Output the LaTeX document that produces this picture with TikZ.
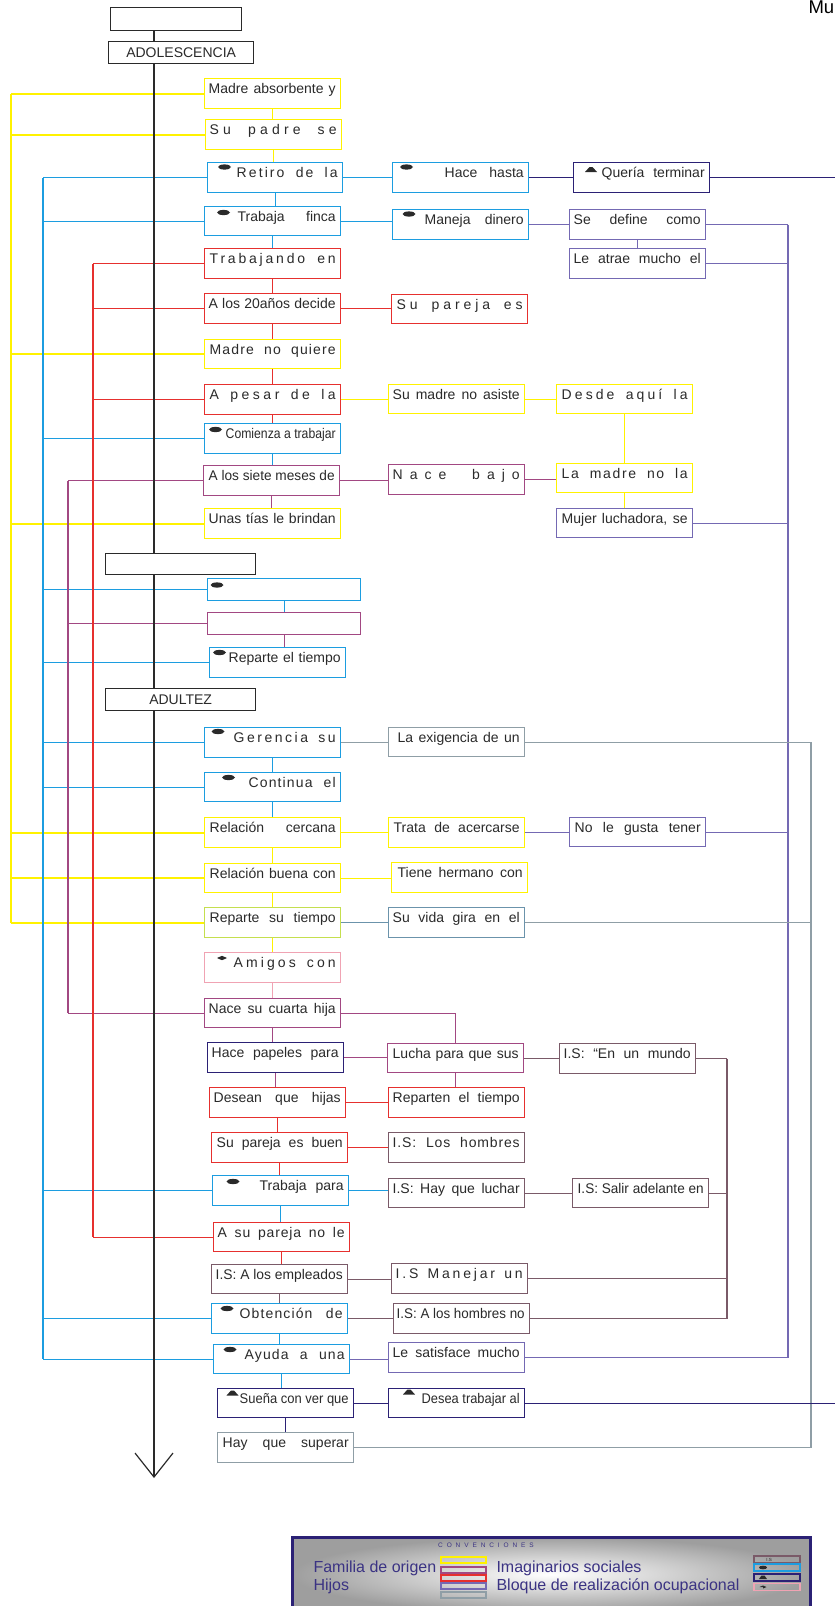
\documentclass[tikz,border=0pt]{standalone}
\usepackage{fontspec}
\setmainfont{Liberation Sans}
\usepackage{graphicx}
\usetikzlibrary{arrows.meta, positioning, calc}

\definecolor{cYel}{HTML}{FFF200}
\definecolor{cBlu}{HTML}{1C9DE0}
\definecolor{cRed}{HTML}{E6302E}
\definecolor{cMag}{HTML}{A24882}
\definecolor{cPur}{HTML}{7469B3}
\definecolor{cGry}{HTML}{8F9EA6}
\definecolor{cBrn}{HTML}{7A5A68}
\definecolor{cNav}{HTML}{2B2175}
\definecolor{cPnk}{HTML}{F0A3B3}
\definecolor{cLim}{HTML}{C5DF4E}
\definecolor{cStl}{HTML}{6B93AB}
\definecolor{cInk}{HTML}{2A2A2A}
\definecolor{cLeg}{HTML}{3B3383}

\pgfdeclarelayer{bg}
\pgfdeclarelayer{mid}
\pgfsetlayers{bg,mid,main}

\newsavebox\fitbox
\newlength\fitw
\newlength\natw
\newcommand\fit[2]{%
  \setlength\fitw{#1}\sbox\fitbox{#2}\setlength\natw{\wd\fitbox}%
  \ifdim\natw>\fitw\relax
    \pgfmathsetmacro\fitfac{\fitw/\natw}\scalebox{\fitfac}[1]{\usebox\fitbox}%
  \else\hbox to\fitw{#2}\fi}
\newcommand\cell[4]{%
  \vbox to #2pt{\kern3.5pt\hbox to #1pt{\vrule height 11pt depth 0pt width 0pt\hskip#3pt\fit{\dimexpr#1pt-#3pt-5pt\relax}{#4}\hss}\vss}}
\newcommand\ls[2]{{\addfontfeature{LetterSpace=#1}#2}}

\tikzset{
  cbox/.style={draw=#1, fill=white, line width=1.4pt, anchor=north west, inner sep=0pt,
    font=\fontsize{14}{16}\selectfont, text=cInk},
  stage/.style={draw=cInk, fill=white, line width=1.3pt, anchor=north west, inner sep=0pt,
    minimum width=150pt, minimum height=22pt, font=\fontsize{14}{16}\selectfont, text=cInk},
  minibox/.style={draw=#1, line width=1.2pt, inner sep=0pt, minimum width=45pt, minimum height=6pt},
  ln/.style={line width=1.1pt, draw=#1},
  bdot/.pic={\fill[cInk] (0,0) ellipse (6.5pt and 2.6pt);},
  bhat/.pic={\fill[cInk] (-6,2.5) -- (6,2.5) -- (1.5,-2.5) -- (-1.5,-2.5) -- cycle;},
  bdia/.pic={\fill[cInk] (-5,0) -- (0,-2.2) -- (5,0) -- (0,2.2) -- cycle;},
}

\begin{document}
\begin{tikzpicture}[x=1pt, y=-1pt]
\useasboundingbox (0,0) rectangle (835,1606);

\node[anchor=base west, font=\fontsize{18.5}{20}\selectfont, text=black] (ttl) at (805,13) {Mu};

\node[stage, minimum width=131pt, minimum height=23pt] (top0) at (110,7) {};
\node[stage, minimum width=145pt] (adol) at (108,41) {ADOLESCENCIA};
\node[stage, minimum height=21pt] (mid0) at (105,553) {};
\node[stage] (adul) at (105,688) {ADULTEZ};

\node[cbox=cYel] (mab) at (204,78) {\cell{136}{30}{4}{Madre absorbente y}};
\node[cbox=cYel] (spa) at (205,119) {\cell{136}{30}{4}{\ls{30}{Su padre se}}};
\node[cbox=cBlu] (ret) at (207,162) {\cell{135}{30}{29}{\ls{15}{Retiro de la}}};
\node[cbox=cBlu] (tfi) at (204,206) {\cell{136}{29}{33}{Trabaja finca}};
\node[cbox=cRed] (tra) at (204,248) {\cell{136}{30}{5}{\ls{20}{Trabajando en}}};
\node[cbox=cRed] (a20) at (204,293) {\cell{136}{30}{4}{A los 20años decide}};
\node[cbox=cYel] (mnq) at (204,339) {\cell{136}{29}{5}{\ls{8}{Madre no quiere}}};
\node[cbox=cRed] (ape) at (204,384) {\cell{136}{30}{5}{\ls{25}{A pesar de la}}};
\node[cbox=cBlu] (cat) at (204,423) {\cell{136}{30}{21}{Comienza a trabajar}};
\node[cbox=cMag] (asm) at (203,465) {\cell{136}{30}{5}{A los siete meses de}};
\node[cbox=cYel] (utb) at (204,508) {\cell{136}{30}{4}{Unas tías le brindan}};
\node[cbox=cBlu, minimum width=153pt, minimum height=22pt] (blk1) at (207,578) {};
\node[cbox=cMag, minimum width=153pt, minimum height=22pt] (blk2) at (207,612) {};
\node[cbox=cBlu] (rep) at (209,647) {\cell{136}{30}{19}{Reparte el tiempo}};

\node[cbox=cBlu] (ger) at (204,727) {\cell{136}{30}{29}{\ls{18}{Gerencia su}}};
\node[cbox=cBlu] (con) at (204,772) {\cell{136}{29}{44}{\ls{8}{Continua el}}};
\node[cbox=cYel] (rce) at (204,817) {\cell{136}{30}{5}{Relación cercana}};
\node[cbox=cYel] (rbc) at (204,863) {\cell{136}{29}{5}{Relación buena con}};
\node[cbox=cLim] (rst) at (204,907) {\cell{136}{30}{5}{Reparte su tiempo}};
\node[cbox=cPnk] (ami) at (204,952) {\cell{136}{30}{29}{\ls{22}{Amigos con}}};
\node[cbox=cMag] (nch) at (204,998) {\cell{136}{29}{4}{Nace su cuarta hija}};
\node[cbox=cNav] (hpp) at (207,1042) {\cell{136}{30}{4}{Hace papeles para}};
\node[cbox=cRed] (dqh) at (209,1087) {\cell{136}{30}{4}{Desean que hijas}};
\node[cbox=cRed] (spb) at (211,1132) {\cell{136}{30}{5}{Su pareja es buen}};
\node[cbox=cBlu] (tpa) at (212,1175) {\cell{136}{30}{47}{Trabaja para}};
\node[cbox=cRed] (spn) at (213,1222) {\cell{136}{29}{4}{\ls{6}{A su pareja no le}}};
\node[cbox=cBrn] (ise) at (211,1264) {\cell{136}{29}{4}{I.S: A los empleados}};
\node[cbox=cBlu] (obt) at (211,1303) {\cell{136}{30}{28}{\ls{8}{Obtención de}}};
\node[cbox=cBlu] (ayu) at (213,1344) {\cell{136}{29}{31}{\ls{8}{Ayuda a una}}};
\node[cbox=cNav] (sue) at (217,1388) {\cell{136}{29}{22}{Sueña con ver que}};
\node[cbox=cGry] (hqs) at (217,1432) {\cell{136}{30}{5}{Hay que superar}};

\node[cbox=cBlu] (hh) at (392,162) {\cell{136}{30}{52}{Hace hasta}};
\node[cbox=cNav] (qt) at (573,162) {\cell{136}{30}{28}{Quería terminar}};
\node[cbox=cBlu] (md) at (392,209) {\cell{136}{30}{32}{Maneja dinero}};
\node[cbox=cPur] (sdc) at (569,209) {\cell{136}{30}{4}{Se define como}};
\node[cbox=cPur] (lam) at (569,248) {\cell{136}{30}{4}{Le atrae mucho el}};
\node[cbox=cRed] (spe) at (391,294) {\cell{136}{29}{5}{\ls{28}{Su pareja es}}};
\node[cbox=cYel] (sma) at (388,384) {\cell{136}{29}{4}{Su madre no asiste}};
\node[cbox=cYel] (daq) at (556,384) {\cell{136}{29}{5}{\ls{22}{Desde aquí la}}};
\node[cbox=cMag] (nba) at (388,464) {\cell{136}{30}{4}{\ls{50}{Nace bajo}}};
\node[cbox=cYel] (lmn) at (556,463) {\cell{136}{29}{5}{\ls{12}{La madre no la}}};
\node[cbox=cPur] (mlu) at (556,508) {\cell{136}{29}{5}{Mujer luchadora, se}};
\node[cbox=cGry] (lex) at (388,727) {\cell{136}{29}{9}{La exigencia de un}};
\node[cbox=cYel] (tda) at (388,817) {\cell{136}{30}{5}{Trata de acercarse}};
\node[cbox=cPur] (nlg) at (569,817) {\cell{136}{29}{5}{No le gusta tener}};
\node[cbox=cYel] (thc) at (391,862) {\cell{136}{30}{6}{Tiene hermano con}};
\node[cbox=cStl] (svg) at (388,907) {\cell{136}{30}{4}{Su vida gira en el}};
\node[cbox=cMag] (lps) at (387,1043) {\cell{136}{29}{5}{Lucha para que sus}};
\node[cbox=cBrn] (ism) at (559,1043) {\cell{136}{30}{4}{I.S: “En un mundo}};
\node[cbox=cRed] (rpt) at (388,1087) {\cell{136}{30}{4}{Reparten el tiempo}};
\node[cbox=cBrn] (ilh) at (388,1132) {\cell{136}{30}{4}{\ls{6}{I.S: Los hombres}}};
\node[cbox=cBrn] (ihl) at (388,1178) {\cell{136}{29}{4}{I.S: Hay que luchar}};
\node[cbox=cBrn] (isa) at (572,1178) {\cell{136}{29}{5}{I.S: Salir adelante en}};
\node[cbox=cBrn] (imu) at (391,1263) {\cell{136}{30}{4}{\ls{20}{I.S Manejar un}}};
\node[cbox=cBrn] (ihn) at (393,1303) {\cell{136}{30}{3}{I.S: A los hombres no}};
\node[cbox=cPur] (lsm) at (388,1342) {\cell{136}{30}{4}{Le satisface mucho}};
\node[cbox=cNav] (dta) at (388,1388) {\cell{136}{29}{33}{Desea trabajar al}};

\foreach \n/\dx/\dy in {ret/17.5/5, tfi/19.5/6.5, hh/14.5/5, md/17/5, cat/11.5/6.5, blk1/10/7,
    rep/10.5/5.5, ger/14/4.5, con/24.5/5.5, tpa/21/6.5, obt/16/5.5, ayu/17/5.5}
  \pic at ([shift={(\dx,\dy)}]\n.north west) {bdot};
\foreach \n/\dx/\dy in {qt/18/7.5, sue/15.5/5, dta/21/4}
  \pic at ([shift={(\dx,\dy)}]\n.north west) {bhat};
\pic at ([shift={(18,6)}]ami.north west) {bdia};

\coordinate (ybus) at (11,0);
\coordinate (bbus) at (43,0);
\coordinate (mbus) at (68,0);
\coordinate (rbus) at (93,0);
\coordinate (kbus) at (727,0);
\coordinate (pbus) at (788,0);
\coordinate (gbus) at (811,0);
\coordinate (edge) at (835,0);
\coordinate (tip) at (154,1478);

\begin{pgfonlayer}{bg}
\foreach \a/\b/\c in {mab/spa/cYel, spa/ret/cYel, ret/tfi/cBlu, tfi/tra/cBlu, tra/a20/cRed,
    a20/mnq/cRed, mnq/ape/cRed, ape/cat/cRed, cat/asm/cBlu, asm/utb/cMag, blk1/blk2/cBlu,
    blk2/rep/cMag, ger/con/cBlu, con/rce/cBlu, rce/rbc/cYel, rbc/rst/cYel, rst/ami/cYel,
    ami/nch/cPnk, nch/hpp/cMag, hpp/dqh/cMag, dqh/spb/cRed, spb/tpa/cRed, tpa/spn/cBlu,
    spn/ise/cRed, ise/obt/cBrn, obt/ayu/cBlu, ayu/sue/cBlu, sue/hqs/cNav,
    sdc/lam/cPur, daq/lmn/cYel, lmn/mlu/cYel, lps/rpt/cMag}
  \draw[ln=\c] (\a.south) -- (\a.south |- \b.north);
\foreach \a/\b/\c in {ret/hh/cBlu, hh/qt/cNav, tfi/md/cBlu, md/sdc/cPur, a20/spe/cRed,
    ape/sma/cYel, sma/daq/cYel, asm/nba/cMag, nba/lmn/cMag, ger/lex/cGry, rce/tda/cYel,
    tda/nlg/cPur, rbc/thc/cYel, rst/svg/cStl, hpp/lps/cMag, lps/ism/cBrn, dqh/rpt/cRed,
    spb/ilh/cRed, tpa/ihl/cBlu, ihl/isa/cBrn, ise/imu/cBrn, obt/ihn/cBrn, ayu/lsm/cPur,
    sue/dta/cNav}
  \draw[ln=\c] (\a.east) -- (\a.east -| \b.west);
\draw[ln=cMag] (nch.east) -| (lps.north);

\draw[ln=cYel, line width=1.6pt] (mab.west -| ybus) -- (rst.west -| ybus);
\foreach \n in {mab,spa,mnq,utb,rce,rbc,rst}
  \draw[ln=cYel, line width=1.6pt] (\n.west) -- (\n.west -| ybus);
\draw[ln=cBlu] (ret.west -| bbus) -- (ayu.west -| bbus);
\foreach \n in {ret,tfi,cat,blk1,rep,ger,con,tpa,obt,ayu}
  \draw[ln=cBlu] (\n.west) -- (\n.west -| bbus);
\draw[ln=cMag] (asm.west -| mbus) -- (nch.west -| mbus);
\foreach \n in {asm,blk2,nch}
  \draw[ln=cMag] (\n.west) -- (\n.west -| mbus);
\draw[ln=cRed] (tra.west -| rbus) -- (spn.west -| rbus);
\foreach \n in {tra,a20,ape,spn}
  \draw[ln=cRed] (\n.west) -- (\n.west -| rbus);

\draw[ln=cPur] (sdc.east -| pbus) -- (lsm.east -| pbus);
\foreach \n in {sdc,lam,mlu,nlg,lsm}
  \draw[ln=cPur] (\n.east) -- (\n.east -| pbus);
\draw[ln=cGry] (lex.east -| gbus) -- (hqs.east -| gbus);
\foreach \n in {lex,svg,hqs}
  \draw[ln=cGry] (\n.east) -- (\n.east -| gbus);
\draw[ln=cBrn] (ism.east -| kbus) -- (ihn.east -| kbus);
\foreach \n in {ism,isa,imu,ihn}
  \draw[ln=cBrn] (\n.east) -- (\n.east -| kbus);
\foreach \n in {qt,dta}
  \draw[ln=cNav] (\n.east) -- (\n.east -| edge);
\end{pgfonlayer}

\begin{pgfonlayer}{mid}
\draw[cInk, line width=1.2pt, -{Straight Barb[length=24pt, width=38pt]}] (top0.south -| tip) -- (tip);
\end{pgfonlayer}

\shade[inner color=white, outer color=black!38] (292,1537) rectangle (810,1612);
\draw[cNav, line width=3pt] (292,1537) rectangle (810,1612);
\node[text=cLeg, font=\fontsize{6.5}{8}\selectfont] (lconv) at (486,1545) {\ls{60}{CONVENCIONES}};
\node[anchor=base west, text=cLeg, font=\fontsize{16}{18}\selectfont] (lfam) at (310,1572) {Familia de origen};
\node[anchor=base west, text=cLeg, font=\fontsize{16}{18}\selectfont] (lhij) at (310,1590) {Hijos};
\node[anchor=base west, text=cLeg, font=\fontsize{16}{18}\selectfont] (limg) at (493,1572) {Imaginarios sociales};
\node[anchor=base west, text=cLeg, font=\fontsize{16}{18}\selectfont] (lblq) at (493,1590) {Bloque de realización ocupacional};
\node[minibox=cYel] (lk1) at (463.5,1560) {};
\node[minibox=cMag] (lk2) at (463.5,1570) {};
\node[minibox=cRed] (lk3) at (463.5,1578) {};
\node[minibox=cPur] (lk4) at (463.5,1586) {};
\node[minibox=cGry] (lk5) at (463.5,1595) {};
\node[minibox=cBrn, minimum width=46pt, minimum height=7pt] (lk6) at (777,1559.5) {};
\node[minibox=cBlu, minimum width=46pt, minimum height=7pt] (lk7) at (777,1567.5) {};
\node[minibox=cNav, minimum width=46pt, minimum height=7pt] (lk8) at (777,1577.5) {};
\node[minibox=cPnk, minimum width=46pt, minimum height=7pt] (lk9) at (777,1587) {};
\node[font=\fontsize{4.5}{5}\selectfont, text=cInk] (lis) at (769,1559.5) {I.S};
\fill[cInk] ([xshift=-14pt]lk7.center) ellipse (4pt and 1.8pt);
\fill[cInk] ([xshift=-18pt, yshift=-1.5pt]lk8.center) -- ++(8,0) -- ++(-2.5,-3.5) -- ++(-3,0) -- cycle;
\fill[cInk] ([xshift=-14pt]lk9.center) -- ++(-3.5,0) -- ++(3.5,-1.5) -- ++(3.5,1.5) -- ++(-3.5,1.5) -- cycle;
\end{tikzpicture}
\end{document}
